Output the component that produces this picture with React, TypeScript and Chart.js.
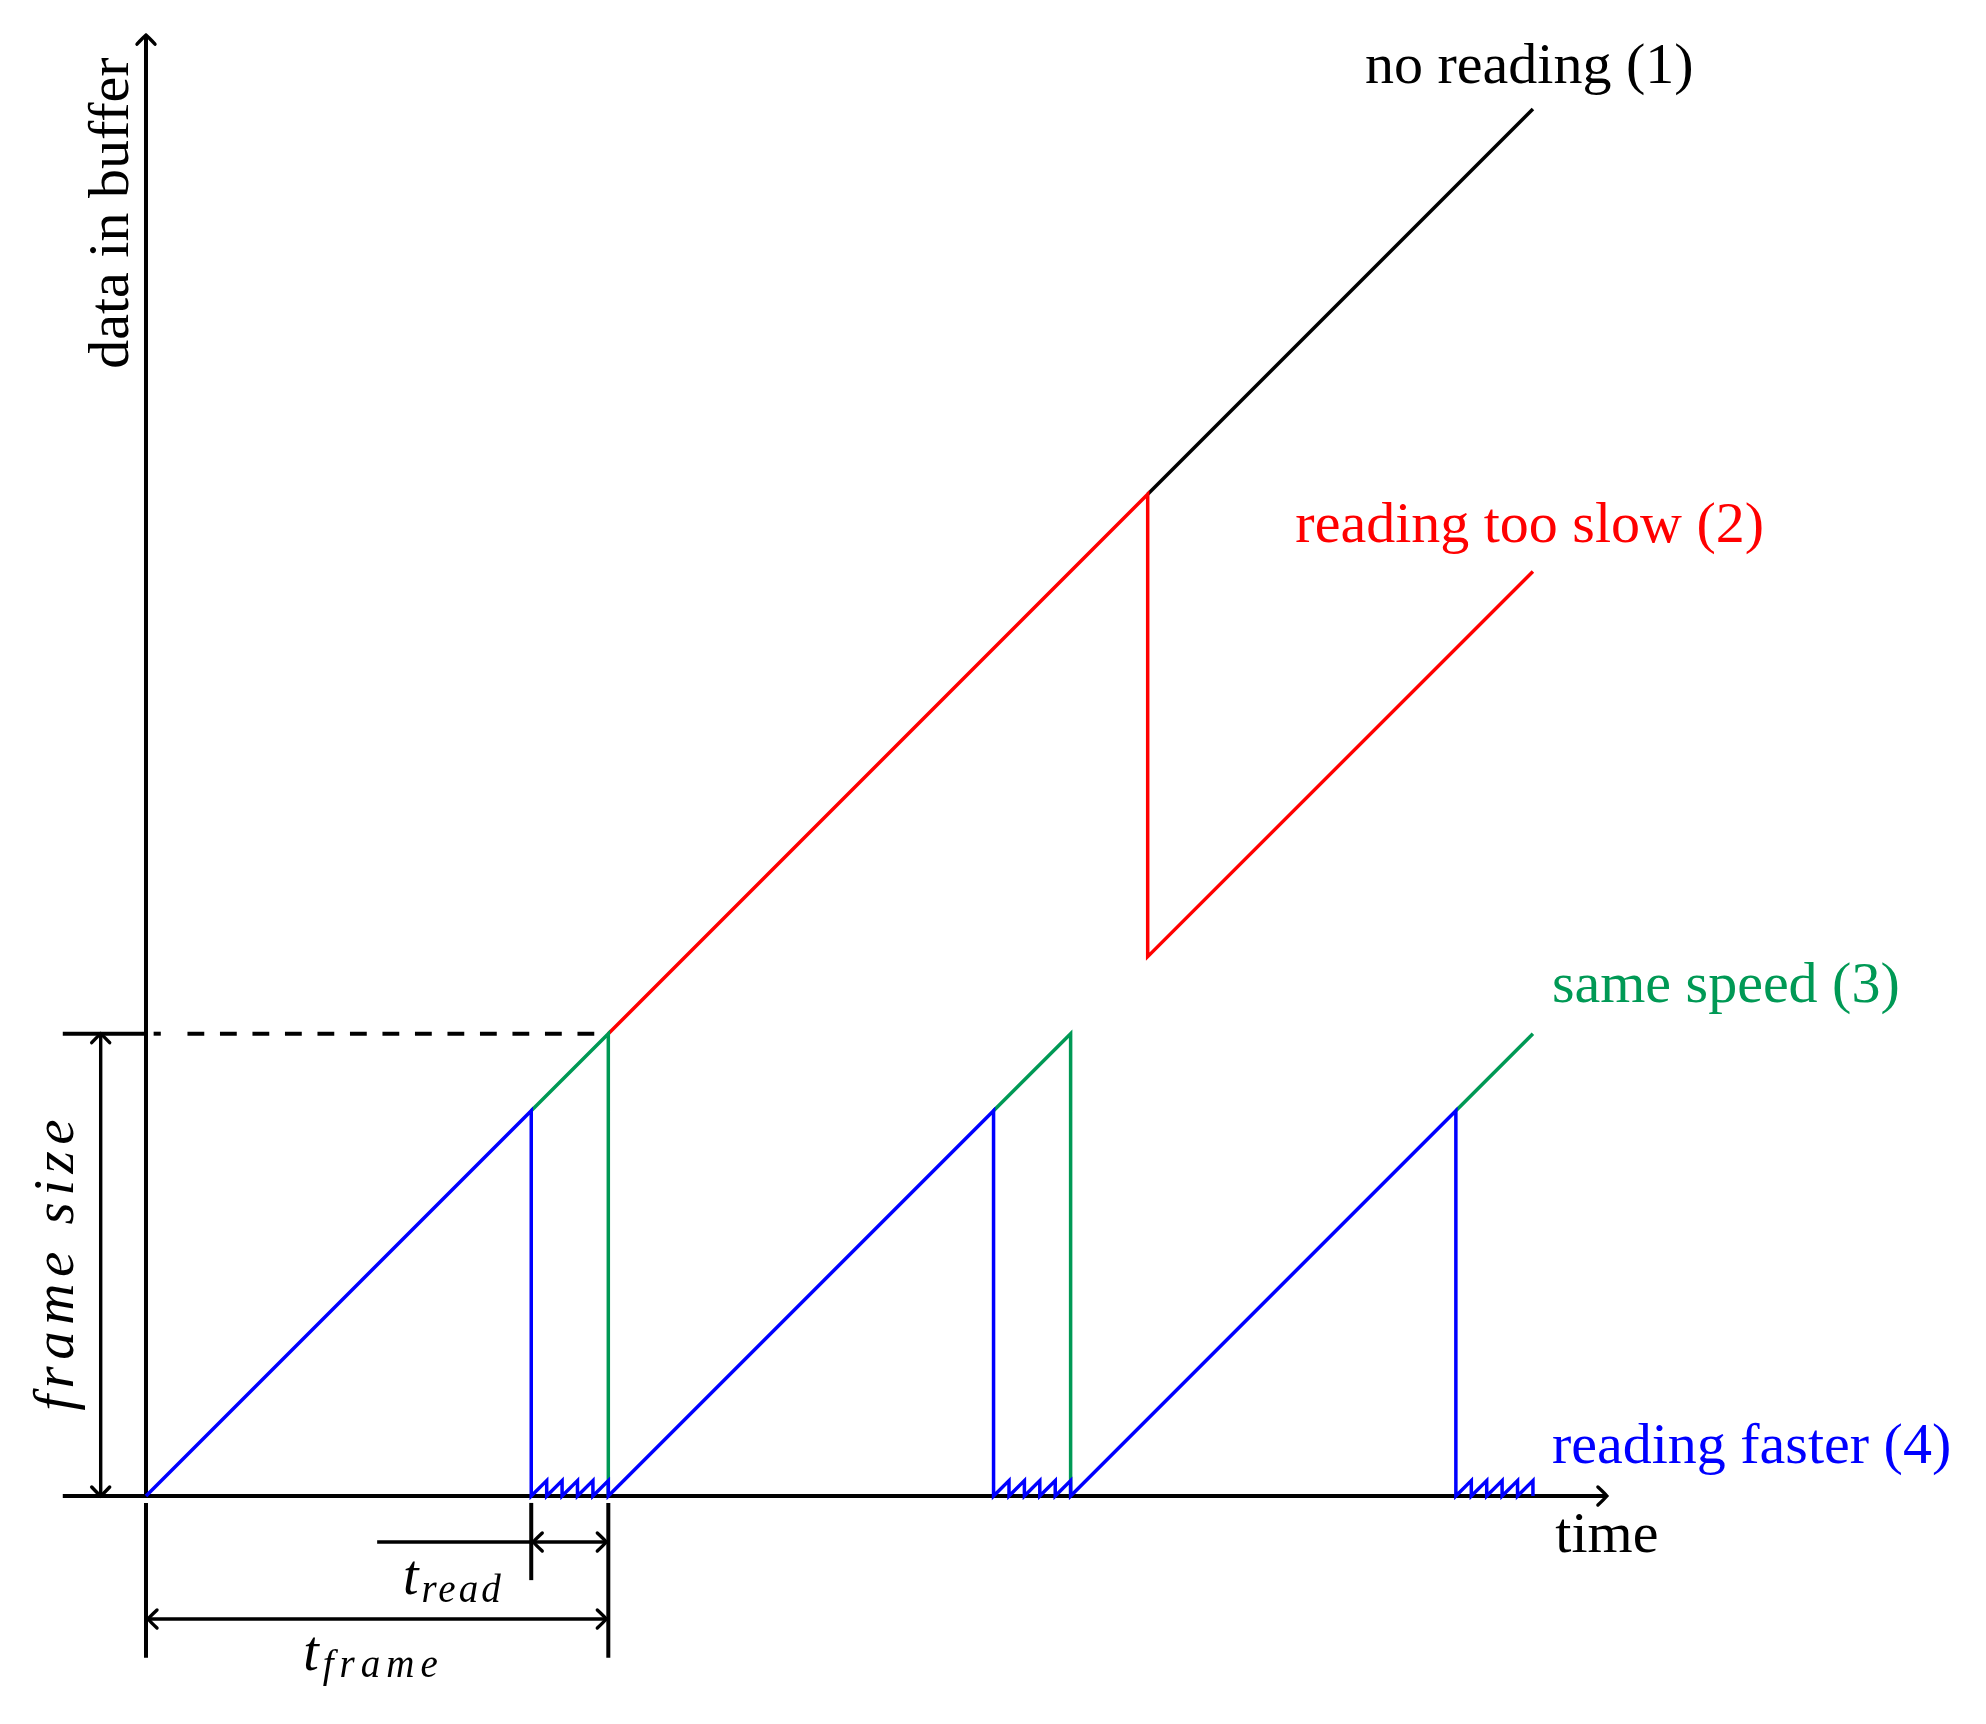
import React, { useEffect, useRef } from 'react';
import { Chart, registerables } from 'chart.js';

Chart.register(...registerables);

// ---- Data (time in frame periods, buffer level in frame sizes) ----
const noReadingTime = [2.1667, 3.0];
const noReadingLevel = [2.1667, 3.0];

const slowTime = [1.0, 2.1667, 2.1667, 3.0];
const slowLevel = [1.0, 2.1667, 1.1667, 2.0];

const sameTime = [0.8333, 1.0, 1.0, 1.0, 1.8333, 2.0, 2.0, 2.0, 2.8333, 3.0];
const sameLevel = [0.8333, 1.0, 0.0, null, 0.8333, 1.0, 0.0, null, 0.8333, 1.0];

const fastTime = [
  0, 0.8333, 0.8333, 0.8667, 0.8667, 0.9, 0.9, 0.9333, 0.9333, 0.9667, 0.9667, 1.0, 1.0,
  1.8333, 1.8333, 1.8667, 1.8667, 1.9, 1.9, 1.9333, 1.9333, 1.9667, 1.9667, 2.0, 2.0,
  2.8333, 2.8333, 2.8667, 2.8667, 2.9, 2.9, 2.9333, 2.9333, 2.9667, 2.9667, 3.0, 3.0,
];
const fastLevel = [
  0, 0.8333, 0, 0.0333, 0, 0.0333, 0, 0.0333, 0, 0.0333, 0, 0.0333, 0,
  0.8333, 0, 0.0333, 0, 0.0333, 0, 0.0333, 0, 0.0333, 0, 0.0333, 0,
  0.8333, 0, 0.0333, 0, 0.0333, 0, 0.0333, 0, 0.0333, 0, 0.0333, 0,
];

const seriesLabels = ['no reading (1)', 'reading too slow (2)', 'same speed (3)', 'reading faster (4)'];
const xAxisLabel = 'time';
const yAxisLabel = 'data in buffer';
const frameSizeLabel = 'frame size';
const tReadSub = 'read';
const tFrameSub = 'frame';

const X_MIN = -0.3158;
const X_MAX = 3.98;
const Y_MIN = -0.4932;
const Y_MAX = 3.236;

const FONT = '"Liberation Serif", "Times New Roman", serif';
const GREEN = '#009955';

function toPoints(xs: number[], ys: (number | null)[]) {
  return xs.map((x, i) => ({ x, y: ys[i] === null ? NaN : (ys[i] as number) }));
}

function seg(ctx: CanvasRenderingContext2D, x1: number, y1: number, x2: number, y2: number) {
  ctx.beginPath();
  ctx.moveTo(x1, y1);
  ctx.lineTo(x2, y2);
  ctx.stroke();
}

function arrowHead(ctx: CanvasRenderingContext2D, tx: number, ty: number, angle: number) {
  const back = 9;
  const lat = 9;
  ctx.save();
  ctx.translate(tx, ty);
  ctx.rotate(angle);
  ctx.lineCap = 'round';
  ctx.beginPath();
  ctx.moveTo(-back, -lat);
  ctx.quadraticCurveTo(-back * 0.25, -lat * 0.3, 0, 0);
  ctx.quadraticCurveTo(-back * 0.25, lat * 0.3, -back, lat);
  ctx.stroke();
  ctx.restore();
}

const diagramPlugin = {
  id: 'bufferDiagram',
  beforeDatasetsDraw(chart: any) {
    const { ctx, scales } = chart;
    const px = (v: number) => scales.x.getPixelForValue(v);
    const py = (v: number) => scales.y.getPixelForValue(v);
    ctx.save();
    ctx.strokeStyle = '#000';
    ctx.lineCap = 'butt';
    ctx.lineWidth = 4;
    // axes
    seg(ctx, px(-0.18), py(0), px(3.16) - 1, py(0));
    seg(ctx, px(0), py(0), px(0), py(3.16) + 1);
    ctx.lineWidth = 3.4;
    arrowHead(ctx, px(3.16), py(0), 0);
    arrowHead(ctx, px(0), py(3.16), -Math.PI / 2);
    // frame size top tick
    ctx.lineWidth = 4;
    seg(ctx, px(-0.18), py(1), px(0), py(1));
    // dashed frame size level
    seg(ctx, px(0.0165), py(1), px(0.032), py(1));
    ctx.setLineDash([16.8, 15.7]);
    seg(ctx, px(0.0897), py(1), px(1), py(1));
    ctx.setLineDash([]);
    ctx.restore();
  },
  afterDatasetsDraw(chart: any) {
    const { ctx, scales } = chart;
    const px = (v: number) => scales.x.getPixelForValue(v);
    const py = (v: number) => scales.y.getPixelForValue(v);
    ctx.save();
    ctx.strokeStyle = '#000';
    ctx.fillStyle = '#000';
    ctx.lineCap = 'butt';

    // frame size dimension arrow
    ctx.lineWidth = 3.4;
    seg(ctx, px(-0.098), py(0), px(-0.098), py(1));
    arrowHead(ctx, px(-0.098), py(0), Math.PI / 2);
    arrowHead(ctx, px(-0.098), py(1), -Math.PI / 2);

    // vertical ticks below the time axis
    ctx.lineWidth = 4;
    seg(ctx, px(0), py(-0.015), px(0), py(-0.35));
    seg(ctx, px(1), py(-0.015), px(1), py(-0.35));
    seg(ctx, px(0.8333), py(-0.015), px(0.8333), py(-0.182));

    // t_read arrow
    ctx.lineWidth = 3.6;
    seg(ctx, px(0.5), py(-0.0995), px(1), py(-0.0995));
    ctx.lineWidth = 3.4;
    arrowHead(ctx, px(0.8333) + 2, py(-0.0995), Math.PI);
    arrowHead(ctx, px(1) - 2, py(-0.0995), 0);

    // t_frame arrow
    ctx.lineWidth = 3.6;
    seg(ctx, px(0), py(-0.266), px(1), py(-0.266));
    ctx.lineWidth = 3.4;
    arrowHead(ctx, px(0) + 2, py(-0.266), Math.PI);
    arrowHead(ctx, px(1) - 2, py(-0.266), 0);

    // texts
    ctx.textBaseline = 'alphabetic';
    ctx.font = `58px ${FONT}`;

    ctx.textAlign = 'center';
    ctx.fillStyle = '#000';
    ctx.fillText(seriesLabels[0], px(2.992), py(3.056));
    ctx.fillStyle = '#ff0000';
    ctx.fillText(seriesLabels[1], px(2.993), py(2.064));
    ctx.textAlign = 'left';
    ctx.fillStyle = GREEN;
    ctx.fillText(seriesLabels[2], px(3.041), py(1.069));
    ctx.fillStyle = '#0000ff';
    ctx.fillText(seriesLabels[3], px(3.041), py(0.0714));
    ctx.fillStyle = '#000';
    ctx.textAlign = 'center';
    ctx.fillText(xAxisLabel, px(3.16), py(-0.121));

    // y axis label (rotated)
    ctx.save();
    ctx.translate(px(-0.039), py(2.775));
    ctx.rotate(-Math.PI / 2);
    ctx.textAlign = 'center';
    ctx.fillText(yAxisLabel, 0, 0);
    ctx.restore();

    // frame size label (rotated italic)
    ctx.save();
    ctx.translate(px(-0.158), py(0.5));
    ctx.rotate(-Math.PI / 2);
    ctx.font = `italic 57px ${FONT}`;
    (ctx as any).letterSpacing = '6.5px';
    ctx.textAlign = 'center';
    ctx.fillText(frameSizeLabel, 3, 0);
    ctx.restore();

    // t_read
    ctx.textAlign = 'left';
    ctx.font = `italic 56px ${FONT}`;
    ctx.fillText('t', px(0.556), py(-0.212));
    let tw = ctx.measureText('t').width;
    ctx.save();
    ctx.font = `italic 39px ${FONT}`;
    (ctx as any).letterSpacing = '3px';
    ctx.fillText(tReadSub, px(0.556) + tw + 3, py(-0.229));
    ctx.restore();

    // t_frame
    ctx.font = `italic 56px ${FONT}`;
    ctx.fillText('t', px(0.34), py(-0.376));
    tw = ctx.measureText('t').width;
    ctx.save();
    ctx.font = `italic 39px ${FONT}`;
    (ctx as any).letterSpacing = '6px';
    ctx.fillText(tFrameSub, px(0.34) + tw + 4, py(-0.3915));
    ctx.restore();

    ctx.restore();
  },
};

export default function App() {
  const canvasRef = useRef<HTMLCanvasElement | null>(null);

  useEffect(() => {
    if (!canvasRef.current) return;
    const lineDefaults = {
      showLine: true,
      pointRadius: 0,
      pointHoverRadius: 0,
      borderWidth: 3.5,
      fill: false,
      tension: 0,
      spanGaps: false,
      clip: false as any,
    };
    const chart = new Chart(canvasRef.current, {
      type: 'scatter',
      data: {
        datasets: [
          { ...lineDefaults, label: seriesLabels[3], data: toPoints(fastTime, fastLevel), borderColor: '#0000ff' },
          { ...lineDefaults, label: seriesLabels[2], data: toPoints(sameTime, sameLevel), borderColor: GREEN },
          { ...lineDefaults, label: seriesLabels[1], data: toPoints(slowTime, slowLevel), borderColor: '#ff0000' },
          { ...lineDefaults, label: seriesLabels[0], data: toPoints(noReadingTime, noReadingLevel), borderColor: '#000000' },
        ],
      },
      options: {
        responsive: false,
        animation: false,
        devicePixelRatio: 1,
        layout: { padding: 0, autoPadding: false },
        plugins: { legend: { display: false }, tooltip: { enabled: false } },
        events: [],
        scales: {
          x: { type: 'linear', min: X_MIN, max: X_MAX, display: false },
          y: { type: 'linear', min: Y_MIN, max: Y_MAX, display: false },
        },
      },
      plugins: [diagramPlugin],
    });
    return () => chart.destroy();
  }, []);

  return (
    <div style={{ position: 'absolute', left: 0, top: 0, width: 1986, height: 1724, background: '#fff' }}>
      <canvas ref={canvasRef} width={1986} height={1724} style={{ display: 'block' }} />
    </div>
  );
}
